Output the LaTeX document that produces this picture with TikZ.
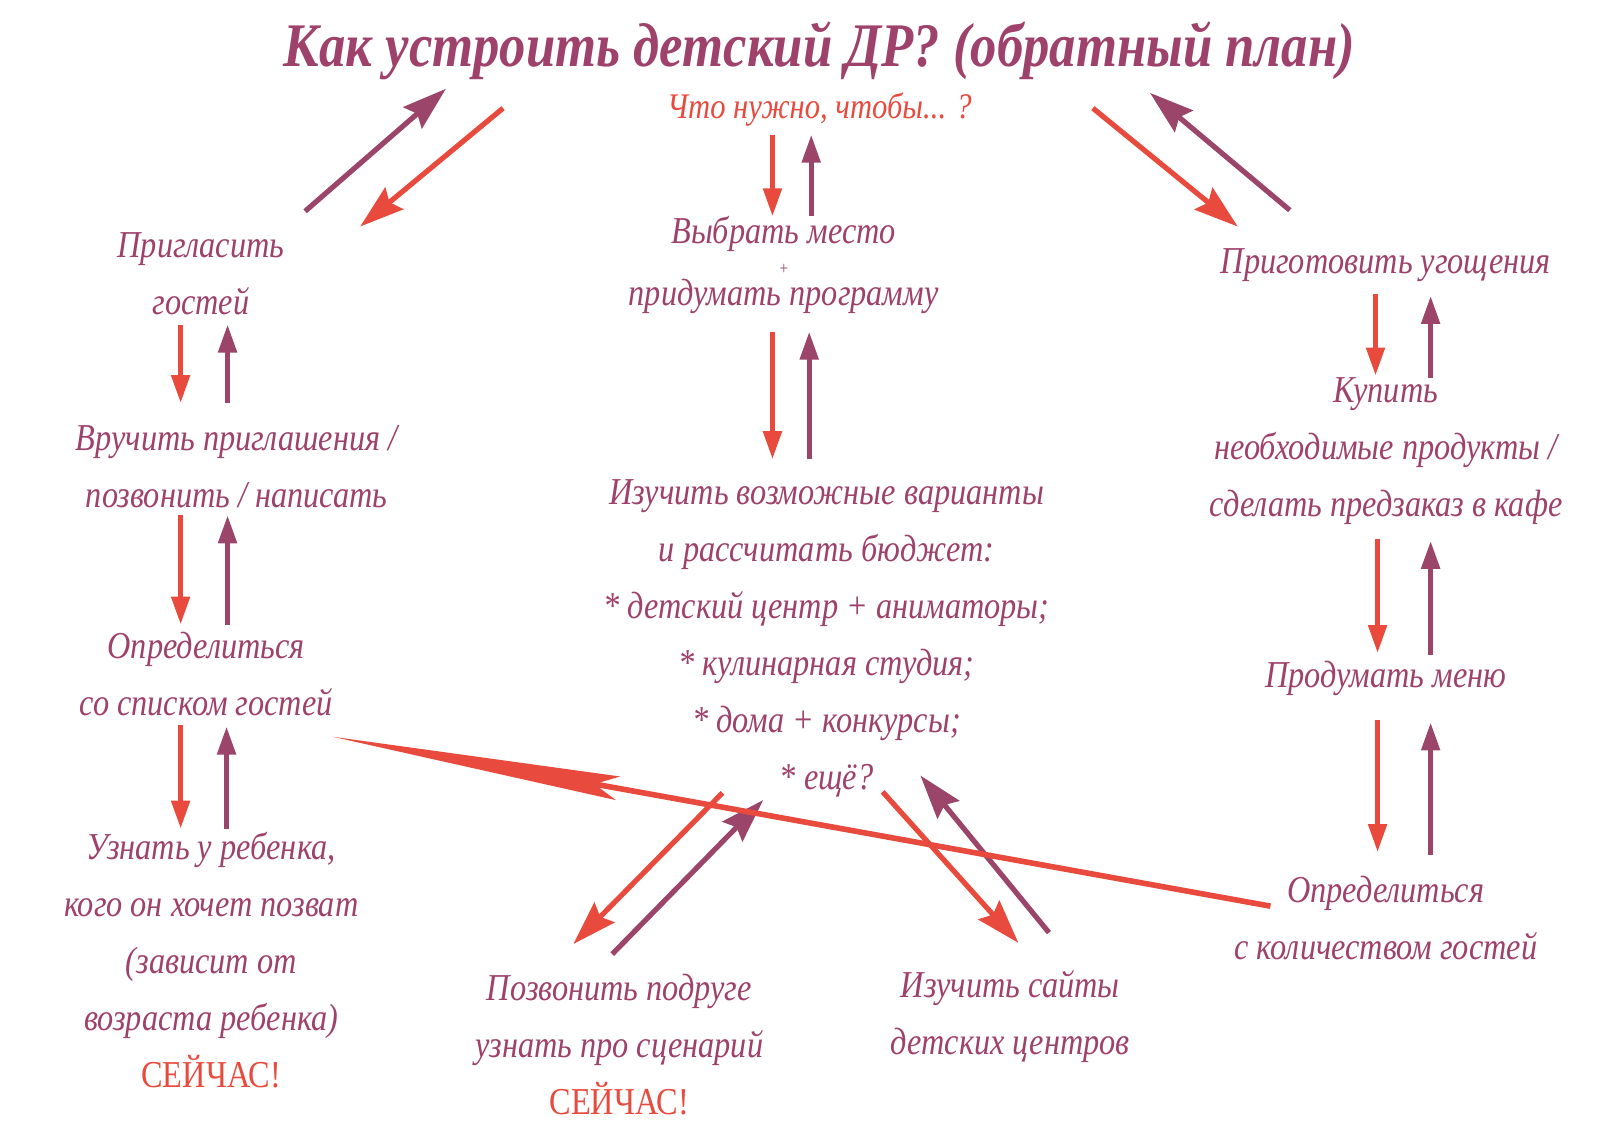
\documentclass[tikz,border=0pt]{standalone}
\usepackage{fontspec}
\newfontfamily\hand{Liberation Serif}[FakeStretch = 0.85]
\usetikzlibrary{arrows.meta, calc}
\definecolor{plum}{HTML}{9E416B}
\definecolor{brick}{HTML}{E84A3E}
\definecolor{wine}{HTML}{9A4569}
\newcommand\now{\textcolor{brick}{\upshape СЕЙЧАС!}}
\begin{document}
\begin{tikzpicture}[x=0.5102pt, y=-0.5102pt,
    task/.style = {text = plum, font = \hand\itshape\fontsize{19}{28.5}\selectfont, align = center, inner sep = 0pt},
    fwd/.style = {brick, line width = 2.6pt, -{Triangle[length = 14pt, width = 9pt]}},
    back/.style = {wine, line width = 2.6pt, -{Triangle[length = 14pt, width = 9pt]}},
    fwdd/.style = {brick, line width = 2.6pt, -{Stealth[length = 22pt, width = 14pt, inset = 3pt]}},
    backd/.style = {wine, line width = 2.6pt, -{Stealth[length = 22pt, width = 14pt, inset = 3pt]}}]
  \fill[white] (0,0) rectangle (1568,1108.4);
  \useasboundingbox (0,0) rectangle (1568,1108.4);

  % title and question
  \node[task, font = \hand\bfseries\itshape\fontsize{31}{36}\selectfont] (title) at (803,50) {Как устроить детский ДР? (обратный план)};
  \node[task, text = brick, font = \hand\itshape\fontsize{18}{20}\selectfont] (ask) at (803,107) {Что нужно, чтобы... ?};

  % left branch
  \node[task] (invite) at (197,268) {Пригласить\\гостей};
  \node[task] (hand) at (232,457) {Вручить приглашения /\\позвонить / написать};
  \node[task] (list) at (202,661) {Определиться\\со списком гостей};
  \node[task] (child) at (207,941) {Узнать у ребенка,\\кого он хочет позват\\(зависит от\\возраста ребенка)\\\now};

  % middle branch
  \node[task] (place) at (768,260) {Выбрать место\\[-13pt]{\fontsize{9}{9}\selectfont +}\\[-13pt]придумать программу};
  \node[task] (options) at (810,626) {Изучить возможные варианты\\и рассчитать бюджет:\\* детский центр + аниматоры;\\* кулинарная студия;\\* дома + конкурсы;\\* ещё?};
  \node[task] (friend) at (607,1024) {Позвонить подруге\\узнать про сценарий\\\now};
  \node[task] (sites) at (990,996) {Изучить сайты\\детских центров};

  % right branch
  \node[task] (treats) at (1358,260) {Приготовить угощения};
  \node[task] (buy) at (1358,442) {Купить\\необходимые продукты /\\сделать предзаказ в кафе};
  \node[task] (menu) at (1358,665) {Продумать меню};
  \node[task] (count) at (1358,900) {Определиться\\с количеством гостей};

  % arrows
  \path[fwdd] ($(title)+(-310,56)$) edge ($(invite)+(156,-46)$)
              ($(title)+(268,56)$) edge ($(treats)+(-145,-38)$);
  \path[backd] ($(invite)+(102,-61)$) edge ($(title)+(-366,37)$)
               ($(treats)+(-94,-54)$) edge ($(title)+(324,41)$);
  \path[fwd] ($(invite)+(-20,50)$) edge ($(hand)+(-55,-62)$)
             ($(hand)+(-55,48)$) edge ($(list)+(-25,-49)$)
             ($(list)+(-25,49)$) edge ($(child)+(-30,-129)$)
             ($(ask)+(-46,25)$) edge ($(place)+(-11,-48)$)
             ($(place)+(-11,65)$) edge ($(options)+(-53,-176)$)
             ($(treats)+(-10,28)$) edge ($(buy)+(-10,-74)$)
             ($(buy)+(-8,86)$) edge ($(menu)+(-8,-25)$)
             ($(menu)+(-8,41)$) edge ($(count)+(-8,-65)$);
  \path[back] ($(hand)+(-9,-62)$) edge ($(invite)+(26,50)$)
              ($(list)+(21,-49)$) edge ($(hand)+(-9,48)$)
              ($(child)+(15,-129)$) edge ($(list)+(20,51)$)
              ($(place)+(27,-48)$) edge ($(ask)+(-8,25)$)
              ($(options)+(-17,-176)$) edge ($(place)+(25,65)$)
              ($(buy)+(44,-72)$) edge ($(treats)+(44,30)$)
              ($(menu)+(44,-23)$) edge ($(buy)+(44,88)$)
              ($(count)+(44,-62)$) edge ($(menu)+(44,43)$);
  \path[fwdd] ($(options)+(-102,151)$) edge ($(friend)+(-45,-99)$)
              ($(options)+(55,150)$) edge ($(sites)+(8,-72)$);
  \path[backd] ($(friend)+(-7,-89)$) edge ($(options)+(-62,158)$)
               ($(sites)+(38,-82)$) edge ($(options)+(92,134)$);
  \draw[brick, line width = 2.8pt, -{Stealth[length = 145pt, width = 12pt, inset = 12pt, line width = 0pt]}]
    ($(count)+(-113,-12)$) -- ($(list)+(124,61)$);
\end{tikzpicture}
\end{document}
